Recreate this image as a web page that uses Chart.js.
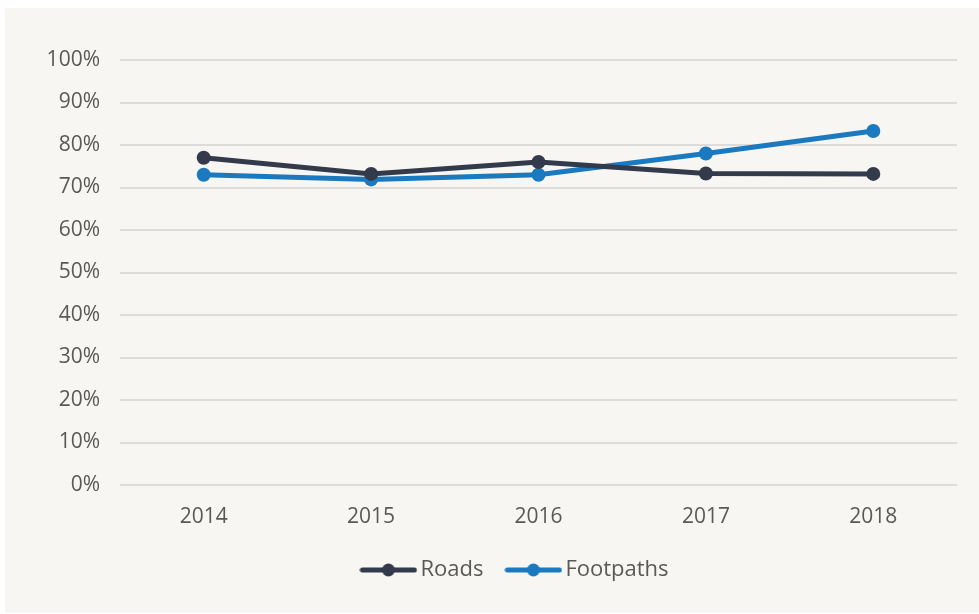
<!DOCTYPE html>
<html lang="en">
<head>
  <meta charset="UTF-8">
  <title>Roads and footpaths</title>
  <style>
    body { margin: 0; background: #fff; }
    .panel { position: absolute; left: 5px; top: 8px; width: 974px; height: 605px; background: #f7f6f2; }
  </style>
</head>
<body>
  <div class="panel"><canvas id="chart" width="974" height="605"></canvas></div>

  <script src="https://cdn.jsdelivr.net/npm/chart.js"></script>
  <script>
    const years = ['2014', '2015', '2016', '2017', '2018'];
    const roads = [77.0, 73.2, 76.0, 73.3, 73.2];
    const footpaths = [73.0, 71.9, 73.0, 78.0, 83.3];
    const yTicks = [0, 10, 20, 30, 40, 50, 60, 70, 80, 90, 100];

    const roadsColor = '#323a4b';
    const pathsColor = '#1b79bf';
    const textColor = '#595959';
    const font = 'Open Sans';

    // little line + dot for the legend
    function legendIcon(color) {
      const c = document.createElement('canvas');
      c.width = 58; c.height = 14;
      const g = c.getContext('2d');
      g.strokeStyle = color;
      g.lineWidth = 5;
      g.lineCap = 'round';
      g.beginPath(); g.moveTo(3, 7); g.lineTo(55, 7); g.stroke();
      g.fillStyle = color;
      g.beginPath(); g.arc(29, 7, 6.5, 0, Math.PI * 2); g.fill();
      return c;
    }
    const icons = [legendIcon(roadsColor), legendIcon(pathsColor)];

    // legend sits a bit right of centre in the original
    const nudgeLegend = {
      id: 'nudgeLegend',
      afterLayout(chart) {
        chart.legend.left += 37;
        chart.legend.right += 37;
      }
    };

    new Chart(document.getElementById('chart'), {
      type: 'line',
      data: {
        labels: years,
        datasets: [
          { label: 'Roads', data: roads, borderColor: roadsColor, backgroundColor: roadsColor,
            borderWidth: 5, pointRadius: 7, pointBorderWidth: 0, tension: 0 },
          { label: 'Footpaths', data: footpaths, borderColor: pathsColor, backgroundColor: pathsColor,
            borderWidth: 5, pointRadius: 7, pointBorderWidth: 0, tension: 0 }
        ]
      },
      plugins: [nudgeLegend],
      options: {
        responsive: false,
        animation: false,
        layout: { padding: { top: 52, right: 22, left: 0, bottom: 22 } },
        plugins: {
          tooltip: { enabled: false },
          legend: {
            position: 'bottom',
            labels: {
              usePointStyle: true,
              pointStyleWidth: 42,
              padding: 29,
              color: textColor,
              font: { family: font, size: 22 },
              generateLabels: chart => chart.data.datasets.map((ds, i) => ({
                text: ds.label,
                pointStyle: icons[i],
                fillStyle: ds.borderColor,
                strokeStyle: ds.borderColor,
                lineWidth: 0,
                fontColor: textColor,
                datasetIndex: i
              }))
            }
          }
        },
        scales: {
          x: {
            offset: true,
            grid: { display: false, offset: true },
            border: { display: false },
            ticks: { color: textColor, font: { family: font, size: 21 }, padding: 11 },
            afterFit: s => { s.height = 45; }
          },
          y: {
            min: 0, max: 100,
            afterBuildTicks: s => { s.ticks = yTicks.map(v => ({ value: v })); },
            grid: { color: '#dddcda', lineWidth: 2, drawTicks: false },
            border: { display: false },
            ticks: { color: textColor, font: { family: font, size: 21 }, padding: 20,
                     callback: v => v + '%' },
            afterFit: s => { s.width = 115; }
          }
        }
      }
    });
  </script>
</body>
</html>
